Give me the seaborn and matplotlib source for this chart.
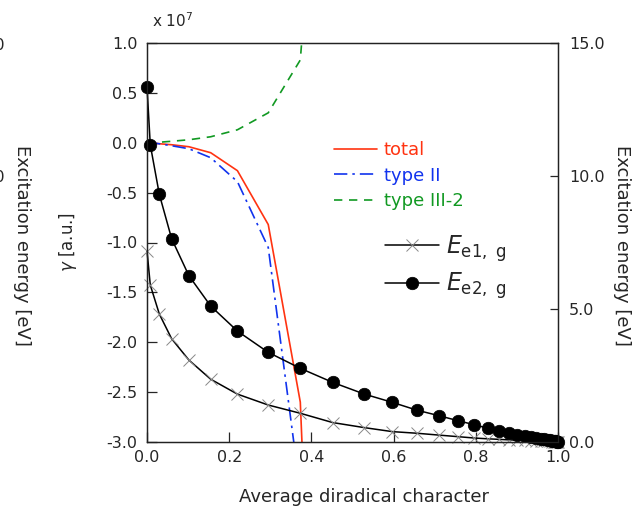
import numpy as np
import pandas as pd
import matplotlib
matplotlib.use("Agg")
import matplotlib.pyplot as plt
import seaborn as sns

# diradical character grid (shared by all series)
x_grid = [0.0, 0.008, 0.03, 0.06, 0.102, 0.155, 0.22, 0.295, 0.373, 0.452,
          0.529, 0.597, 0.656, 0.71, 0.757, 0.796, 0.829, 0.856, 0.881, 0.901,
          0.919, 0.934, 0.947, 0.958, 0.967, 0.975, 0.981, 0.986, 0.990, 0.993,
          0.996, 0.998, 1.0]

# gamma [x 10^7 a.u.]
gamma_total = [0.0, 0.0, -0.01, -0.02, -0.04, -0.10, -0.28, -0.82, -2.60, -10.5]
gamma_type2 = [0.0, 0.0, -0.01, -0.03, -0.06, -0.15, -0.39, -1.05, -3.5]
gamma_type3 = [0.0, 0.0, 0.005, 0.015, 0.03, 0.06, 0.13, 0.30, 0.83, 5.0]

# excitation energies [eV]
e2_g = [13.35, 11.17, 9.31, 7.64, 6.25, 5.11, 4.17, 3.37, 2.77, 2.24,
        1.80, 1.49, 1.20, 0.99, 0.80, 0.65, 0.52, 0.41, 0.33, 0.27,
        0.22, 0.18, 0.15, 0.12, 0.10, 0.08, 0.06, 0.05, 0.04, 0.03,
        0.02, 0.01, 0.0]
e1_g = [7.19, 5.90, 4.81, 3.88, 3.08, 2.36, 1.80, 1.39, 1.08, 0.73,
        0.54, 0.39, 0.33, 0.26, 0.20, 0.15, 0.12, 0.10, 0.08, 0.07,
        0.06, 0.05, 0.04, 0.035, 0.03, 0.025, 0.02, 0.015, 0.01, 0.008,
        0.005, 0.003, 0.0]

sns.set_style("ticks")
plt.rcParams['font.family'] = ['DejaVu Sans']
plt.rcParams['axes.unicode_minus'] = False

red = '#ff3311'
blue = '#1133ee'
green = '#119922'

W, H = 638, 509
fig = plt.figure(figsize=(W / 100, H / 100), dpi=100)
ax = fig.add_axes([147 / W, 1 - 442 / H, (558 - 147) / W, (442 - 43) / H])

# gamma curves on the left axis
sns.lineplot(x=x_grid[:len(gamma_total)], y=gamma_total, ax=ax, color=red,
             lw=1.2, estimator=None, sort=False, label='total')
sns.lineplot(x=x_grid[:len(gamma_type2)], y=gamma_type2, ax=ax, color=blue,
             lw=1.2, estimator=None, sort=False, label='type II',
             linestyle=(0, (8, 3, 1.5, 3)))
sns.lineplot(x=x_grid[:len(gamma_type3)], y=gamma_type3, ax=ax, color=green,
             lw=1.2, estimator=None, sort=False, label='type III-2',
             linestyle=(0, (5, 4)))

ax.set_xlim(0, 1.0)
ax.set_ylim(-3.0, 1.0)
ax.set_xticks(np.arange(0, 1.01, 0.2))
ax.set_xticklabels([f'{v:.1f}' for v in np.arange(0, 1.01, 0.2)])
ax.set_yticks(np.arange(-3.0, 1.01, 0.5))
ax.set_yticklabels([f'{v:.1f}' for v in np.arange(-3.0, 1.01, 0.5)])
ax.tick_params(direction='in', length=7, width=0.9, labelsize=11.5,
               top=False, right=False)
ax.tick_params(axis='y', pad=7)
ax.tick_params(axis='x', pad=6)
ax.set_xlabel('')
ax.set_ylabel('')

leg1 = ax.legend(loc='upper left', bbox_to_anchor=(334 / W, 1 - 141 / H),
                 bbox_transform=fig.transFigure, frameon=False, fontsize=13,
                 handlelength=2.4, handletextpad=0.35, labelspacing=0.42,
                 borderpad=0, borderaxespad=0)
for txt, c in zip(leg1.get_texts(), [red, blue, green]):
    txt.set_color(c)

# excitation energies on the right axis
ax2 = ax.twinx()
sns.lineplot(x=x_grid, y=e1_g, ax=ax2, color='black', lw=1.1,
             estimator=None, sort=False, marker='x', markersize=8,
             markeredgecolor='#888888', markeredgewidth=0.7,
             label=r'$E_{\mathrm{e1,\ g}}$', clip_on=False)
sns.lineplot(x=x_grid, y=e2_g, ax=ax2, color='black', lw=1.1,
             estimator=None, sort=False, marker='o', markersize=9,
             markeredgecolor='black', markeredgewidth=0.5,
             label=r'$E_{\mathrm{e2,\ g}}$', clip_on=False)
ax2.set_ylim(0, 15.0)
ax2.set_yticks([0, 5, 10, 15])
ax2.set_yticklabels(['0.0', '5.0', '10.0', '15.0'])
ax2.tick_params(direction='in', length=6, width=0.9, labelsize=11.5, pad=8)
ax2.set_ylabel('')
leg2 = ax2.legend(loc='upper left', bbox_to_anchor=(385 / W, 1 - 233 / H),
                  bbox_transform=fig.transFigure, frameon=False, fontsize=17,
                  handlelength=2.3, handletextpad=0.3, labelspacing=0.3,
                  borderpad=0, borderaxespad=0)

for a in (ax, ax2):
    for s in a.spines.values():
        s.set_visible(True)
        s.set_linewidth(0.9)
        s.set_color('#222222')

# axis titles
fig.text(364 / W, 1 - 497 / H, 'Average diradical character', fontsize=13,
         ha='center', va='center')
fig.text(68 / W, 1 - 242 / H, r'$\gamma$ [a.u.]', fontsize=12,
         rotation=90, ha='center', va='center')
fig.text(622 / W, 1 - 245 / H, 'Excitation energy [eV]', fontsize=13,
         rotation=270, ha='center', va='center')
fig.text(22 / W, 1 - 245 / H, 'Excitation energy [eV]', fontsize=13,
         rotation=270, ha='center', va='center')
fig.text(152 / W, 1 - 21 / H, r'x 10$^{7}$', fontsize=11, ha='left', va='center')
# edge of a neighbouring panel's tick labels
fig.text(5 / W, 1 - 45 / H, '15.0', fontsize=11.5, ha='right', va='center')
fig.text(5 / W, 1 - 178 / H, '10.0', fontsize=11.5, ha='right', va='center')

fig.savefig('out.png', dpi=100)
